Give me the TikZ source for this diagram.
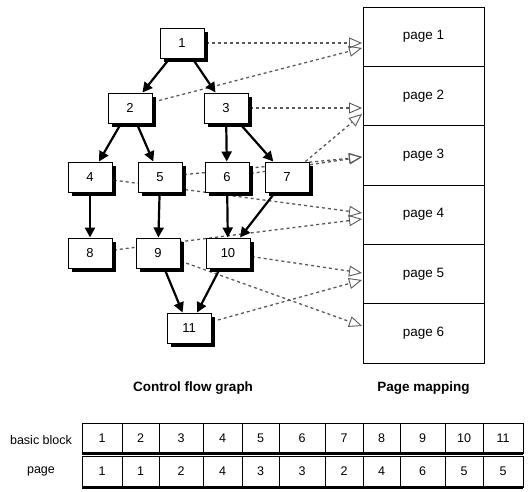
\documentclass[tikz,border=0pt]{standalone}
\usepackage{fontspec}
\setmainfont{Liberation Sans}
\usetikzlibrary{arrows.meta}
\pgfdeclarelayer{bg}
\pgfsetlayers{bg,main}
\begin{document}
\begin{tikzpicture}[x=1pt,y=-1pt,
  blk/.style={draw, line width=1pt, fill=white, minimum width=44pt, minimum height=30pt, inner sep=0pt,
    font=\fontsize{13}{15}\selectfont,
    preaction={draw=none, fill=black, transform canvas={shift={(3.5pt,-3.5pt)}}}},
  pg/.style={draw, line width=0.8pt, fill=white, minimum width=121pt, minimum height=59.3pt, inner sep=0pt,
    font=\fontsize{13.5}{15}\selectfont},
  flow/.style={line width=2.2pt, -{Triangle[length=10pt,width=10pt]}},
  map/.style={black!65, line width=1.3pt, dash pattern=on 3pt off 3pt,
    -{Triangle[open,length=13pt,width=11pt,line width=0.9pt]}},
  cell/.style={draw, line width=0.8pt, inner sep=0pt, font=\fontsize{12.5}{14}\selectfont},
  ttl/.style={font=\bfseries\fontsize{13.5}{15}\selectfont},
  lbl/.style={font=\fontsize{12.5}{14}\selectfont}
]
\useasboundingbox (0,0) rectangle (528,491);

% control flow graph blocks
\node[blk] (n1) at (182,43) {1};
\node[blk] (n2) at (130,108) {2};
\node[blk] (n3) at (226,108) {3};
\node[blk] (n4) at (90,177) {4};
\node[blk] (n5) at (160,177) {5};
\node[blk] (n6) at (227,177) {6};
\node[blk] (n7) at (287,177) {7};
\node[blk] (n8) at (90,253) {8};
\node[blk] (n9) at (158,253) {9};
\node[blk] (n10) at (228,253) {10};
\node[blk] (n11) at (189,328) {11};

% pages
\node[pg] (p1) at (423.5,36.7) {page 1};
\node[pg] (p2) at (423.5,96) {page 2};
\node[pg] (p3) at (423.5,155.3) {page 3};
\node[pg] (p4) at (423.5,214.7) {page 4};
\node[pg] (p5) at (423.5,274) {page 5};
\node[pg] (p6) at (423.5,333.3) {page 6};

% arrow targets on the page column
\coordinate (t1a) at (362,43);
\coordinate (t1b) at (362,48);
\coordinate (t2a) at (362,108);
\coordinate (t2b) at (362,114);
\coordinate (t3) at (362,157);
\coordinate (t4a) at (362,213);
\coordinate (t4b) at (362,219);
\coordinate (t5a) at (362,273);
\coordinate (t5b) at (362,280);
\coordinate (t6) at (362,326);

\begin{pgfonlayer}{bg}
\draw[map] (n1.center) -- (t1a);
\draw[map] (n2.center) -- (t1b);
\draw[map] (n3.center) -- (t2a);
\draw[map] (n7.center) -- (t2b);
\draw[map] (n5.center) -- (t3);
\draw[map] (n6.center) -- (t3);
\draw[map] (n4.center) -- (t4a);
\draw[map] (n8.center) -- (t4b);
\draw[map] (n10.center) -- (t5a);
\draw[map] (n11.center) -- (t5b);
\draw[map] (n9.center) -- (t6);
\end{pgfonlayer}

% control flow edges
\draw[flow] (n1) -- (n2);
\draw[flow] (n1) -- (n3);
\draw[flow] (n2) -- (n4);
\draw[flow] (n2) -- (n5);
\draw[flow] (n3) -- (n6);
\draw[flow] (n3) -- (n7);
\draw[flow] (n4) -- (n8);
\draw[flow] (n5) -- (n9);
\draw[flow] (n6) -- (n10);
\draw[flow] (n7) -- (n10);
\draw[flow] (n9) -- (n11);
\draw[flow] (n10) -- (n11);

% titles
\node[ttl] (cfg) at (193,388) {Control flow graph};
\node[ttl] (pm) at (423.5,388) {Page mapping};

% mapping table
\node[lbl] (lbb) at (41,440) {basic block};
\node[lbl] (lpg) at (41,471) {page};
\foreach \a/\b/\bb/\pp [count=\i] in {82/122/1/1, 122/159/2/1, 159/203/3/2, 203/242/4/4, 242/279/5/3,
    279/325/6/3, 325/363/7/2, 363/400/8/4, 400/445/9/6, 445/483/10/5, 483/523/11/5}{
  \pgfmathsetmacro\cw{\b-\a}
  \pgfmathsetmacro\cx{(\a+\b)/2}
  \node[cell, minimum width=\cw pt, minimum height=30pt] (bb\i) at (\cx,438) {\bb};
  \node[cell, minimum width=\cw pt, minimum height=31pt] (pp\i) at (\cx,471.5) {\pp};
}
\draw[line width=2.5pt] (bb1.south west) -- (bb11.south east);
\draw[line width=2.5pt] (pp1.south west) -- (pp11.south east);
\end{tikzpicture}
\end{document}
